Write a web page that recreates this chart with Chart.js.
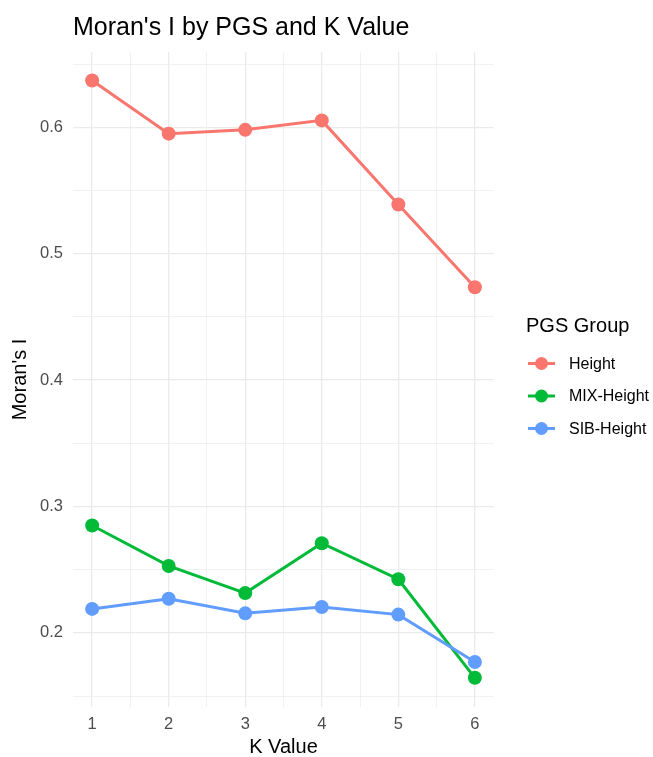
<!DOCTYPE html>
<html>
<head>
<meta charset="utf-8">
<script src="https://cdn.jsdelivr.net/npm/chart.js@4.4.1/dist/chart.umd.min.js"></script>
<style>
  html, body { margin: 0; padding: 0; background: #fff; }
  #wrap { width: 653px; height: 757px; }
</style>
</head>
<body>
<div id="wrap"><canvas id="moran"></canvas></div>
<script>
// ==== Data ====
var kValues = [1, 2, 3, 4, 5, 6]
var groupNames = ['Height', 'MIX-Height', 'SIB-Height']
var heightVals = [0.637, 0.595, 0.598, 0.6055, 0.539, 0.4735]
var mixVals = [0.285, 0.253, 0.2315, 0.271, 0.2425, 0.1645]
var sibVals = [0.219, 0.227, 0.2155, 0.2205, 0.2145, 0.177]
var groupColors = ['#F8766D', '#00BA38', '#619CFF']

// tick positions (major = labelled, minor = grid only)
var xMajor = [1, 2, 3, 4, 5, 6]
var xMinor = [1.5, 2.5, 3.5, 4.5, 5.5]
var yMajor = [0.2, 0.3, 0.4, 0.5, 0.6]
var yMinor = [0.15, 0.25, 0.35, 0.45, 0.55, 0.65]

var FONT = "'Liberation Sans', Arial, sans-serif"

function toPoints(vals) {
    return kValues.map(function(k, i) { return { x: k, y: vals[i] } })
}

function setTicks(major, minor) {
    return function(scale) {
        var all = major.concat(minor).sort(function(a, b) { return a - b })
        scale.ticks = all.map(function(v) { return { value: v, major: major.indexOf(v) > -1 } })
    }
}

function isMajor(list, v) {
    return list.some(function(m) { return Math.abs(m - v) < 1e-9 })
}

// ggplot-like legend on the right
var ggLegend = {
    id: 'ggLegend',
    afterDraw: function(chart) {
        var c = chart.ctx
        var area = chart.chartArea
        var x0 = area.right + 33
        var mid = (area.top + area.bottom) / 2
        var top = mid - 61
        c.save()
        c.fillStyle = '#000'
        c.textBaseline = 'middle'
        c.textAlign = 'left'
        c.font = '20px ' + FONT
        c.fillText('PGS Group', x0 - 1, top + 8)
        c.font = '16px ' + FONT
        chart.data.datasets.forEach(function(ds, i) {
            var y = top + 45 + i * 32.5
            c.strokeStyle = ds.borderColor
            c.lineWidth = 3
            c.beginPath()
            c.moveTo(x0 + 1, y)
            c.lineTo(x0 + 28, y)
            c.stroke()
            c.fillStyle = ds.borderColor
            c.beginPath()
            c.arc(x0 + 14.5, y, 6.5, 0, Math.PI * 2)
            c.fill()
            c.fillStyle = '#000'
            c.fillText(ds.label, x0 + 42, y + 1)
        })
        c.restore()
    }
}

var seriesVals = [heightVals, mixVals, sibVals]
var datasets = groupNames.map(function(name, i) {
    return {
        label: name,
        data: toPoints(seriesVals[i]),
        borderColor: groupColors[i],
        backgroundColor: groupColors[i],
        borderWidth: 3,
        pointRadius: 7,
        pointHoverRadius: 7,
        pointBorderWidth: 0,
        tension: 0,
        order: 2 - i
    }
})

var config = {
    type: 'line',
    data: { datasets: datasets },
    options: {
        responsive: true,
        maintainAspectRatio: false,
        animation: false,
        layout: { padding: { top: 0, right: 159, bottom: 0, left: 0 } },
        plugins: {
            legend: { display: false },
            tooltip: { enabled: false },
            title: {
                display: true,
                text: "Moran's I by PGS and K Value",
                align: 'start',
                fullSize: false,
                color: '#000',
                font: { family: FONT, size: 25, weight: 'normal', lineHeight: 1.2 },
                padding: { top: 13, bottom: 9 }
            }
        },
        scales: {
            x: {
                type: 'linear',
                min: 0.75,
                max: 6.25,
                afterBuildTicks: setTicks(xMajor, xMinor),
                afterFit: function(scale) { scale.height = 50 },
                border: { display: false },
                grid: {
                    drawTicks: false,
                    color: '#ebebeb',
                    lineWidth: function(ctx) { return ctx.tick && isMajor(xMajor, ctx.tick.value) ? 1.3 : 0.7 }
                },
                ticks: {
                    autoSkip: false,
                    maxRotation: 0,
                    padding: 8,
                    color: '#4d4d4d',
                    font: { family: FONT, size: 16.5 },
                    callback: function(v) { return isMajor(xMajor, v) ? String(v) : '' }
                },
                title: {
                    display: true,
                    text: 'K Value',
                    color: '#000',
                    font: { family: FONT, size: 20, lineHeight: 1 },
                    padding: { top: 0, bottom: 0 }
                }
            },
            y: {
                type: 'linear',
                min: 0.1414,
                max: 0.6596,
                afterBuildTicks: setTicks(yMajor, yMinor),
                afterFit: function(scale) { scale.width = 73 },
                border: { display: false },
                grid: {
                    drawTicks: false,
                    color: '#ebebeb',
                    lineWidth: function(ctx) { return ctx.tick && isMajor(yMajor, ctx.tick.value) ? 1.3 : 0.7 }
                },
                ticks: {
                    autoSkip: false,
                    padding: 10,
                    color: '#4d4d4d',
                    font: { family: FONT, size: 16.5 },
                    callback: function(v) { return isMajor(yMajor, v) ? v.toFixed(1) : '' }
                },
                title: {
                    display: true,
                    text: "Moran's I",
                    color: '#000',
                    font: { family: FONT, size: 20, lineHeight: 1 },
                    padding: { top: 10, bottom: 0 }
                }
            }
        }
    },
    plugins: [ggLegend]
}

new Chart(document.getElementById('moran').getContext('2d'), config)
</script>
</body>
</html>
